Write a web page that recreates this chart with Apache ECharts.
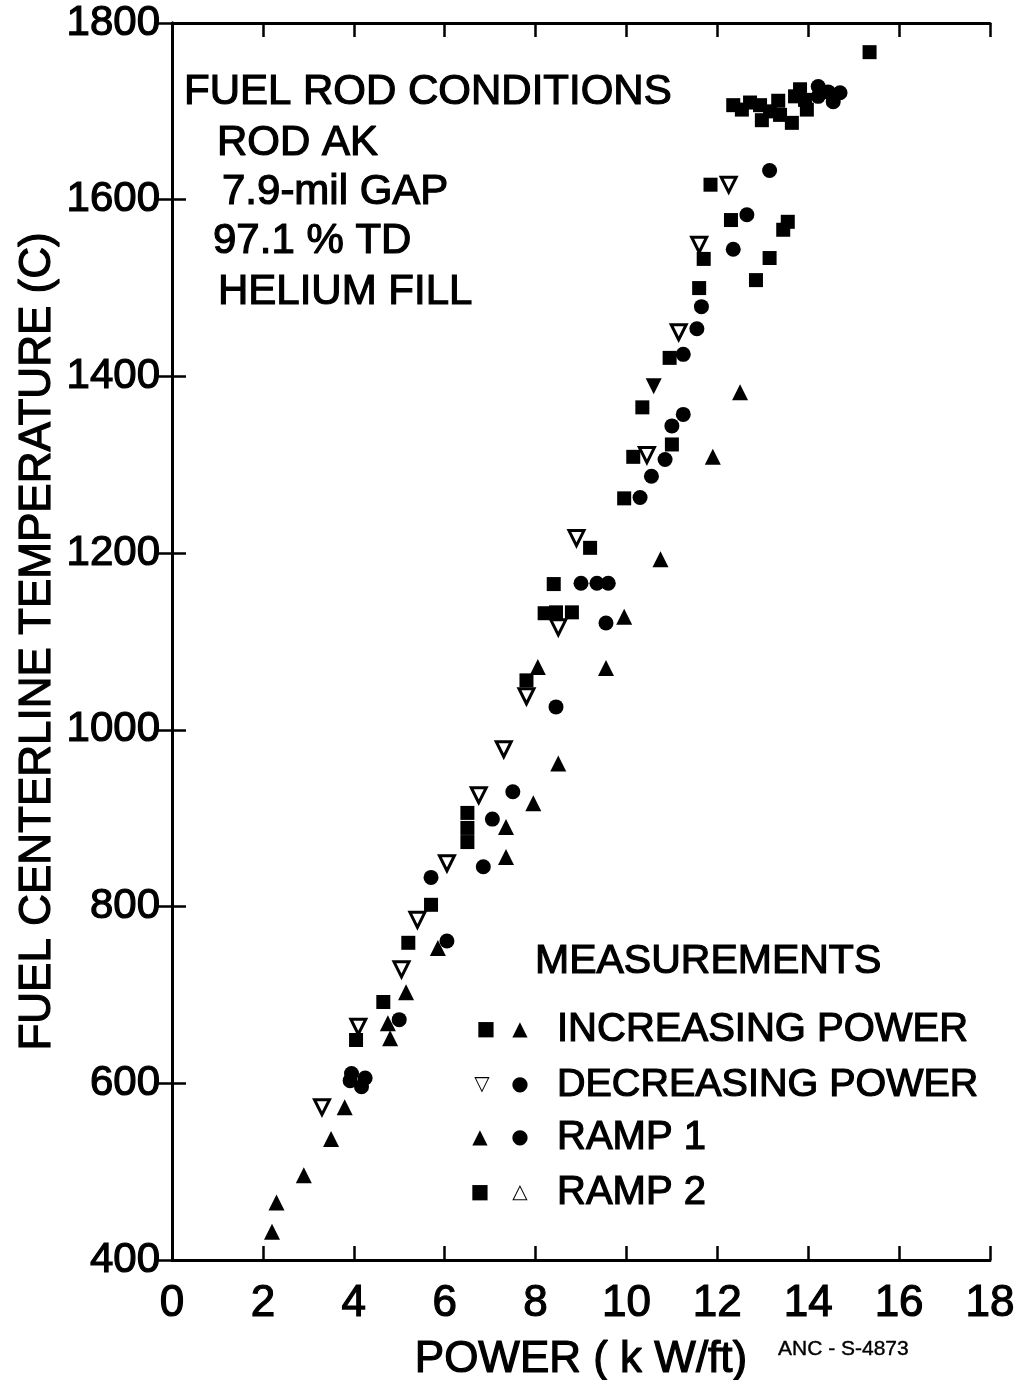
<!DOCTYPE html>
<html><head><meta charset="utf-8">
<script src="https://cdn.jsdelivr.net/npm/echarts@6/dist/echarts.min.js"></script>
<style>html,body{margin:0;padding:0;background:#fff}#c{width:1022px;height:1380px}</style>
</head><body><div id="c"></div>
<script>
// ---- data (POWER kW/ft, TEMPERATURE C) ----
const filledSquares = [
  [4.05,649],[4.65,692],[5.2,759],[5.7,802],[6.5,873],[6.5,889],[6.5,906],[7.8,1056],
  [8.2,1132],[8.45,1133],[8.8,1133],[8.4,1165],[9.2,1206],[9.95,1262],[10.15,1309],
  [11.0,1323],[10.35,1365],[10.95,1421],[11.6,1500],[11.7,1533],[12.85,1509],[13.15,1534],
  [12.3,1577],[13.45,1566],[13.55,1575],[11.85,1617],
  [12.35,1707],[12.54,1702],[12.72,1710],[12.94,1707],[12.98,1690],[13.16,1700],[13.34,1712],
  [13.38,1696],[13.64,1687],[13.71,1717],[13.82,1725],[13.97,1702],[13.93,1713],[15.35,1767]
];
const filledTriangles = [
  [2.2,432],[2.3,465],[2.9,496],[3.5,537],[3.8,573],[4.8,651],[4.75,668],[5.15,703],
  [5.85,753],[7.35,856],[7.35,890],[7.95,917],[8.5,962],[8.05,1071],[9.55,1070],
  [9.95,1128],[10.75,1193],[11.9,1309],[12.5,1382]
];
const openDownTriangles = [
  [3.3,573],[4.1,664],[5.05,729],[5.4,785],[6.05,849],[6.75,926],[7.3,978],[7.8,1038],
  [8.5,1116],[8.9,1217],[10.45,1311],[11.15,1450],[11.6,1549],[12.25,1617]
];
const filledDownTriangles = [[10.6,1389]];
const filledCircles = [
  [3.95,611],[3.92,603],[4.25,606],[4.17,596],[5.0,672],[6.05,761],[5.7,833],[6.85,845],
  [7.05,899],[7.5,930],[8.45,1026],[9.55,1121],[9.0,1166],[9.35,1166],[9.6,1166],
  [10.3,1263],[10.55,1287],[10.85,1306],[11.0,1344],[11.25,1357],[11.25,1425],[11.55,1454],
  [11.65,1479],[12.35,1544],[12.65,1583],[13.15,1633],
  [14.22,1728],[14.44,1722],[14.7,1721],[14.55,1711],[14.22,1717]
];
const conditionLines = ['FUEL ROD CONDITIONS','ROD AK','7.9-mil GAP','97.1 % TD','HELIUM FILL'];
const legendTitle = 'MEASUREMENTS';
const legendRows = [
  {a:'■', b:'▲', label:'INCREASING POWER'},
  {a:'▽', b:'●', label:'DECREASING POWER'},
  {a:'▲', b:'●', label:'RAMP 1'},
  {a:'■', b:'△', label:'RAMP 2'}
];
const xTitle = 'POWER ( k W/ft)';
const yTitle = 'FUEL CENTERLINE TEMPERATURE (C)';
const figId = 'ANC - S-4873';

const FF = '"Liberation Sans", Arial, sans-serif';
const chart = echarts.init(document.getElementById('c'), null, {renderer:'canvas'});

const axisLine = {show:true, lineStyle:{color:'#000', width:3}};
const axisTick = {show:true, inside:true, length:14, lineStyle:{color:'#000', width:2.5}};
const thick = {textBorderColor:'#000', textBorderWidth:1.2};

const condX = [184,217,222,213,218];
const condY = [92,143,192,241,292];
const graphics = [];
function txt(x,y,t,size,extra){
  return {type:'text', x, y, style:Object.assign({text:t, fontSize:size, fontFamily:FF, fill:'#000', align:'left', verticalAlign:'middle', stroke:'#000', lineWidth:1.2}, extra||{})};
}
conditionLines.forEach((t,i)=>graphics.push(txt(condX[i],condY[i],t,42)));
graphics.push(txt(535,962,legendTitle,41));
const rowY = [1030,1085,1138,1193];
const symA = [486,482,480,480];
legendRows.forEach((r,i)=>{
  graphics.push({type:'text', x:symA[i], y:rowY[i], style:{text:r.a, fontSize:20, fontFamily:'"DejaVu Sans"', fill:'#000', align:'center', verticalAlign:'middle'}});
  graphics.push({type:'text', x:520, y:rowY[i], style:{text:r.b, fontSize:20, fontFamily:'"DejaVu Sans"', fill:'#000', align:'center', verticalAlign:'middle'}});
  graphics.push(txt(557,rowY[i],r.label,i===1?39.5:40));
});
graphics.push(txt(778,1349,figId,21,{lineWidth:0.4}));

function sc(data, symbol, size, rotate, open){
  return {type:'scatter', xAxisIndex:0, yAxisIndex:0, data, symbol, symbolSize:size, symbolRotate:rotate||0,
    itemStyle: open ? {color:'#fff', borderColor:'#000', borderWidth:3, opacity:1} : {color:'#000', opacity:1},
    silent:true, animation:false};
}

chart.setOption({
  backgroundColor:'#fff',
  animation:false,
  grid:{left:172, right:32, top:23, bottom:120, containLabel:false, outerBoundsMode:'none'},
  xAxis:[
    {type:'value', min:0, max:18, interval:2, position:'bottom', axisLine, axisTick,
     axisLabel:Object.assign({fontSize:44, color:'#000', fontFamily:FF, margin:22}, thick),
     splitLine:{show:false},
     name:xTitle, nameLocation:'middle', nameGap:78, nameMoveOverlap:false,
     nameTextStyle:Object.assign({fontSize:44, color:'#000', fontFamily:FF}, thick)},
    {type:'value', min:0, max:18, interval:2, position:'top', axisLine, axisTick,
     axisLabel:{show:false}, splitLine:{show:false}}
  ],
  yAxis:[
    {type:'value', min:400, max:1800, interval:200, position:'left', axisLine, axisTick,
     axisLabel:Object.assign({fontSize:42, color:'#000', fontFamily:FF, margin:12, formatter:(v)=>String(v)}, thick),
     splitLine:{show:false},
     name:yTitle, nameLocation:'middle', nameGap:112, nameRotate:90, nameMoveOverlap:false,
     nameTextStyle:Object.assign({fontSize:44, color:'#000', fontFamily:FF, verticalAlign:'bottom'}, thick)},
    {type:'value', min:400, max:1800, interval:200, position:'right', axisLine, axisTick,
     axisLabel:{show:false}, splitLine:{show:false}}
  ],
  series:[
    sc(filledSquares,'rect',14),
    sc(filledTriangles,'triangle',16),
    sc(openDownTriangles,'triangle',15,180,true),
    sc(filledDownTriangles,'triangle',16,180),
    sc(filledCircles,'circle',15)
  ],
  graphic:graphics
});
</script></body></html>
